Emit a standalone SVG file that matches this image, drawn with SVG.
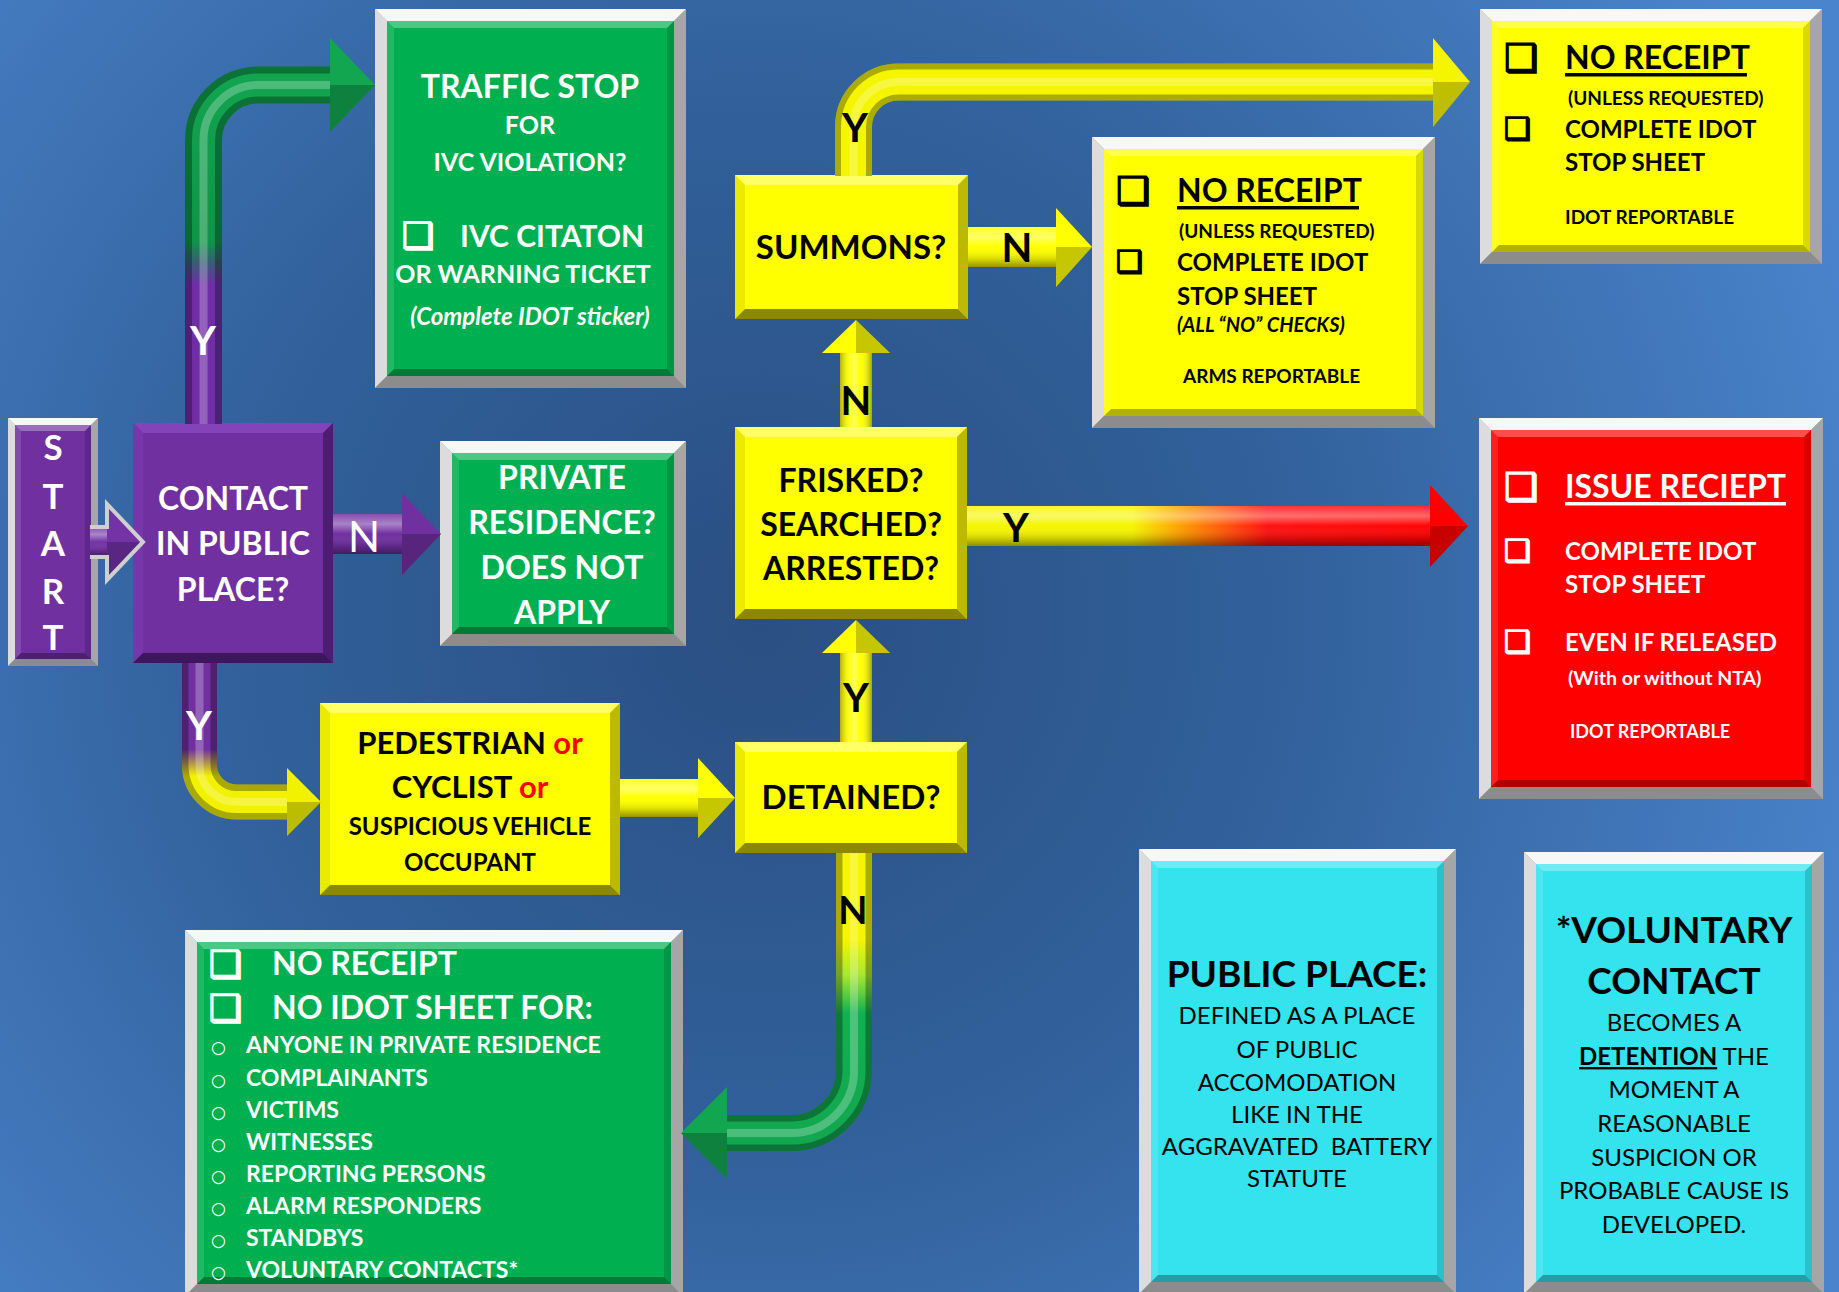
<svg xmlns="http://www.w3.org/2000/svg" width="1839" height="1292" viewBox="0 0 1839 1292">
<defs>
<radialGradient id="bg" gradientUnits="userSpaceOnUse" cx="760" cy="620" r="1150">
<stop offset="0" stop-color="#2a4f83"/>
<stop offset="0.45" stop-color="#31609a"/>
<stop offset="1" stop-color="#4a84cc"/>
</radialGradient>
<linearGradient id="shadeH" x1="0" y1="0" x2="0" y2="1">
<stop offset="0" stop-color="#fff" stop-opacity="0.15"/>
<stop offset="0.25" stop-color="#fff" stop-opacity="0.4"/>
<stop offset="0.5" stop-color="#fff" stop-opacity="0"/>
<stop offset="0.8" stop-color="#000" stop-opacity="0.15"/>
<stop offset="1" stop-color="#000" stop-opacity="0.42"/>
</linearGradient>
<linearGradient id="shadeV" x1="0" y1="0" x2="1" y2="0">
<stop offset="0" stop-color="#000" stop-opacity="0.3"/>
<stop offset="0.3" stop-color="#fff" stop-opacity="0.1"/>
<stop offset="0.45" stop-color="#fff" stop-opacity="0.35"/>
<stop offset="0.65" stop-color="#fff" stop-opacity="0"/>
<stop offset="1" stop-color="#000" stop-opacity="0.35"/>
</linearGradient>
<linearGradient id="gTraffic" gradientUnits="userSpaceOnUse" x1="0" y1="423" x2="0" y2="60">
<stop offset="0" stop-color="#6f2ea6"/>
<stop offset="0.38" stop-color="#6f2ea6"/>
<stop offset="0.44" stop-color="#3b5a78"/>
<stop offset="0.5" stop-color="#0f9448"/>
<stop offset="1" stop-color="#12a650"/>
</linearGradient>
<linearGradient id="gPed" gradientUnits="userSpaceOnUse" x1="0" y1="663" x2="0" y2="820">
<stop offset="0" stop-color="#7030a0"/>
<stop offset="0.55" stop-color="#7030a0"/>
<stop offset="0.72" stop-color="#f2f200"/>
<stop offset="1" stop-color="#f2f200"/>
</linearGradient>
<linearGradient id="gDet" gradientUnits="userSpaceOnUse" x1="0" y1="853" x2="0" y2="1150">
<stop offset="0" stop-color="#f5f500"/>
<stop offset="0.29" stop-color="#f5f500"/>
<stop offset="0.41" stop-color="#a8e830"/>
<stop offset="0.54" stop-color="#12b050"/>
<stop offset="1" stop-color="#12a650"/>
</linearGradient>
<linearGradient id="gRed" gradientUnits="userSpaceOnUse" x1="967" y1="0" x2="1468" y2="0">
<stop offset="0" stop-color="#f5f500"/>
<stop offset="0.33" stop-color="#f5f500"/>
<stop offset="0.43" stop-color="#ff9a00"/>
<stop offset="0.6" stop-color="#ff1010"/>
<stop offset="1" stop-color="#ff0000"/>
</linearGradient>
<style>
.f{font-family:Lato,'Open Sans','Liberation Sans',sans-serif}
.b{font-weight:700}
.r{font-weight:400}
.i{font-style:italic}
.w{fill:#fff}
.k{fill:#000}
.c{text-anchor:middle}
.ck{font-family:'DejaVu Sans',sans-serif;stroke-width:1.6}
.ck.k{stroke:#000}
.ck.w{stroke:#fff}
.ft{fill:#f7f7f7}.fl{fill:#dcdcdc}.fr{fill:#a6a6a6}.fb{fill:#8c8c8c}
.bt{fill:#fff;fill-opacity:.3}.bl{fill:#fff;fill-opacity:.12}.br{fill:#000;fill-opacity:.15}.bb{fill:#000;fill-opacity:.3}
.yt{fill:#ffff66}.yl{fill:#eaea00}.yr{fill:#bdb800}.yb{fill:#8c8800}
.pt{fill:#8443b8}.pl{fill:#7736aa}.pr{fill:#4c1d73}.pb{fill:#3d165e}
.green{fill:#00b050}.yellow{fill:#ffff00}.red{fill:#ff0000}.cyan{fill:#34e3ee}.purple{fill:#7030a0}
.sh{fill:url(#shadeH)}.sv{fill:url(#shadeV)}
.facet{fill:#000;fill-opacity:.22}
.tube{fill:none;stroke-linecap:butt;stroke-linejoin:round}
.tdark{fill:none;stroke:#000;stroke-opacity:.3;stroke-width:37}
.thi{fill:none;stroke:#fff;stroke-opacity:.25;stroke-width:8}
</style>
</defs>
<rect x="0" y="0" width="1839" height="1292" fill="url(#bg)"/>

<g id="start">
<rect x="8" y="418" width="90" height="248" class="fr"/>
<polygon class="ft" points="8,418 98,418 91,425 15,425"/>
<polygon class="fl" points="8,418 15,425 15,659 8,666"/>
<polygon class="fr" points="98,418 98,666 91,659 91,425"/>
<polygon class="fb" points="8,666 15,659 91,659 98,666"/>
<rect x="15" y="425" width="76" height="234" class="purple"/>
<polygon class="bt" points="15,425 91,425 85,431 21,431"/>
<polygon class="bl" points="15,425 21,431 21,653 15,659"/>
<polygon class="br" points="91,425 91,659 85,653 85,431"/>
<polygon class="bb" points="15,659 21,653 85,653 91,659"/>
<text class="f b w c" font-size="35" x="53" y="460">S</text>
<text class="f b w c" font-size="35" x="53" y="509">T</text>
<text class="f b w c" font-size="35" x="53" y="556">A</text>
<text class="f b w c" font-size="35" x="53" y="604">R</text>
<text class="f b w c" font-size="35" x="53" y="650">T</text>
</g>

<g id="contact">
<rect x="133" y="423" width="200" height="240" class="purple"/>
<polygon class="pt" points="133,423 333,423 323,433 143,433"/>
<polygon class="pl" points="133,423 143,433 143,653 133,663"/>
<polygon class="pr" points="333,423 333,663 323,653 323,433"/>
<polygon class="pb" points="133,663 143,653 323,653 333,663"/>
<text class="f b w c" font-size="32" x="233" y="510">CONTACT</text>
<text class="f b w c" font-size="32" x="233" y="555">IN PUBLIC</text>
<text class="f b w c" font-size="32" x="233" y="601">PLACE?</text>
</g>

<g id="traffic">
<rect x="375" y="9" width="311" height="379" class="fr"/>
<polygon class="ft" points="375,9 686,9 674,21 387,21"/>
<polygon class="fl" points="375,9 387,21 387,376 375,388"/>
<polygon class="fr" points="686,9 686,388 674,376 674,21"/>
<polygon class="fb" points="375,388 387,376 674,376 686,388"/>
<rect x="387" y="21" width="287" height="355" class="green"/>
<polygon class="bt" points="387,21 674,21 667,28 394,28"/>
<polygon class="bl" points="387,21 394,28 394,369 387,376"/>
<polygon class="br" points="674,21 674,376 667,369 667,28"/>
<polygon class="bb" points="387,376 394,369 667,369 674,376"/>
<text class="f b w c" x="530" y="98" font-size="32">TRAFFIC STOP</text>
<text class="f b w c" x="530" y="134" font-size="25">FOR</text>
<text class="f b w c" x="530" y="171" font-size="25">IVC VIOLATION?</text>
<text class="ck w" x="402" y="248" font-size="36">❑</text>
<text class="f b w" x="460" y="247" font-size="30">IVC CITATON</text>
<text class="f b w c" x="523" y="283" font-size="25">OR WARNING TICKET</text>
<text class="f b w c i" x="530" y="325" font-size="24">(Complete IDOT sticker)</text>
</g>

<g id="private">
<rect x="440" y="441" width="246" height="205" class="fr"/>
<polygon class="ft" points="440,441 686,441 674,453 452,453"/>
<polygon class="fl" points="440,441 452,453 452,634 440,646"/>
<polygon class="fr" points="686,441 686,646 674,634 674,453"/>
<polygon class="fb" points="440,646 452,634 674,634 686,646"/>
<rect x="452" y="453" width="222" height="181" class="green"/>
<polygon class="bt" points="452,453 674,453 667,460 459,460"/>
<polygon class="bl" points="452,453 459,460 459,627 452,634"/>
<polygon class="br" points="674,453 674,634 667,627 667,460"/>
<polygon class="bb" points="452,634 459,627 667,627 674,634"/>
<text class="f b w c" x="562" y="489" font-size="32">PRIVATE</text>
<text class="f b w c" x="562" y="534" font-size="32">RESIDENCE?</text>
<text class="f b w c" x="562" y="579" font-size="32">DOES NOT</text>
<text class="f b w c" x="562" y="624" font-size="32">APPLY</text>
</g>

<g id="pedestrian">
<rect x="320" y="703" width="300" height="192" class="yellow"/>
<polygon class="yt" points="320,703 620,703 610,713 330,713"/>
<polygon class="yl" points="320,703 330,713 330,885 320,895"/>
<polygon class="yr" points="620,703 620,895 610,885 610,713"/>
<polygon class="yb" points="320,895 330,885 610,885 620,895"/>
<text class="f b k c" x="470" y="754" font-size="31">PEDESTRIAN <tspan fill="#ff0000">or</tspan></text>
<text class="f b k c" x="470" y="798" font-size="31">CYCLIST <tspan fill="#ff0000">or</tspan></text>
<text class="f b k c" x="470" y="835" font-size="24">SUSPICIOUS VEHICLE</text>
<text class="f b k c" x="470" y="871" font-size="24">OCCUPANT</text>
</g>

<g id="summons">
<rect x="735" y="175" width="233" height="144" class="yellow"/>
<polygon class="yt" points="735,175 968,175 958,185 745,185"/>
<polygon class="yl" points="735,175 745,185 745,309 735,319"/>
<polygon class="yr" points="968,175 968,319 958,309 958,185"/>
<polygon class="yb" points="735,319 745,309 958,309 968,319"/>
<text class="f b k c" x="851" y="259" font-size="33">SUMMONS?</text>
</g>

<g id="frisked">
<rect x="735" y="427" width="232" height="192" class="yellow"/>
<polygon class="yt" points="735,427 967,427 957,437 745,437"/>
<polygon class="yl" points="735,427 745,437 745,609 735,619"/>
<polygon class="yr" points="967,427 967,619 957,609 957,437"/>
<polygon class="yb" points="735,619 745,609 957,609 967,619"/>
<text class="f b k c" x="851" y="492" font-size="32">FRISKED?</text>
<text class="f b k c" x="851" y="536" font-size="32">SEARCHED?</text>
<text class="f b k c" x="851" y="580" font-size="32">ARRESTED?</text>
</g>

<g id="detained">
<rect x="735" y="742" width="232" height="111" class="yellow"/>
<polygon class="yt" points="735,742 967,742 957,752 745,752"/>
<polygon class="yl" points="735,742 745,752 745,843 735,853"/>
<polygon class="yr" points="967,742 967,853 957,843 957,752"/>
<polygon class="yb" points="735,853 745,843 957,843 967,853"/>
<text class="f b k c" x="851" y="809" font-size="33">DETAINED?</text>
</g>

<g id="no-receipt-arms">
<rect x="1092" y="137" width="343" height="291" class="fr"/>
<polygon class="ft" points="1092,137 1435,137 1423,149 1104,149"/>
<polygon class="fl" points="1092,137 1104,149 1104,416 1092,428"/>
<polygon class="fr" points="1435,137 1435,428 1423,416 1423,149"/>
<polygon class="fb" points="1092,428 1104,416 1423,416 1435,428"/>
<rect x="1104" y="149" width="319" height="267" class="yellow"/>
<polygon class="bt" points="1104,149 1423,149 1416,156 1111,156"/>
<polygon class="bl" points="1104,149 1111,156 1111,409 1104,416"/>
<polygon class="br" points="1423,149 1423,416 1416,409 1416,156"/>
<polygon class="bb" points="1104,416 1111,409 1416,409 1423,416"/>
<text class="ck k" x="1116" y="204" font-size="38">❑</text>
<text class="f b k" x="1177" y="202" font-size="32">NO RECEIPT</text>
<rect x="1177" y="206" width="182" height="3.5" fill="#000"/>
<text class="f b k" x="1179" y="238" font-size="19">(UNLESS REQUESTED)</text>
<text class="ck k" x="1116" y="272" font-size="30">❑</text>
<text class="f b k" x="1177" y="271" font-size="24">COMPLETE IDOT</text>
<text class="f b k" x="1177" y="305" font-size="24">STOP SHEET</text>
<text class="f b k i" x="1177" y="332" font-size="20">(ALL “NO” CHECKS)</text>
<text class="f b k" x="1183" y="383" font-size="19">ARMS REPORTABLE</text>
</g>

<g id="no-receipt-idot">
<rect x="1480" y="9" width="342" height="255" class="fr"/>
<polygon class="ft" points="1480,9 1822,9 1810,21 1492,21"/>
<polygon class="fl" points="1480,9 1492,21 1492,252 1480,264"/>
<polygon class="fr" points="1822,9 1822,264 1810,252 1810,21"/>
<polygon class="fb" points="1480,264 1492,252 1810,252 1822,264"/>
<rect x="1492" y="21" width="318" height="231" class="yellow"/>
<polygon class="bt" points="1492,21 1810,21 1803,28 1499,28"/>
<polygon class="bl" points="1492,21 1499,28 1499,245 1492,252"/>
<polygon class="br" points="1810,21 1810,252 1803,245 1803,28"/>
<polygon class="bb" points="1492,252 1499,245 1803,245 1810,252"/>
<text class="ck k" x="1504" y="71" font-size="38">❑</text>
<text class="f b k" x="1565" y="69" font-size="32">NO RECEIPT</text>
<rect x="1565" y="73" width="182" height="3.5" fill="#000"/>
<text class="f b k" x="1568" y="105" font-size="19">(UNLESS REQUESTED)</text>
<text class="ck k" x="1504" y="139" font-size="30">❑</text>
<text class="f b k" x="1565" y="138" font-size="24">COMPLETE IDOT</text>
<text class="f b k" x="1565" y="171" font-size="24">STOP SHEET</text>
<text class="f b k" x="1565" y="224" font-size="19">IDOT REPORTABLE</text>
</g>

<g id="issue-receipt">
<rect x="1479" y="418" width="344" height="381" class="fr"/>
<polygon class="ft" points="1479,418 1823,418 1811,430 1491,430"/>
<polygon class="fl" points="1479,418 1491,430 1491,787 1479,799"/>
<polygon class="fr" points="1823,418 1823,799 1811,787 1811,430"/>
<polygon class="fb" points="1479,799 1491,787 1811,787 1823,799"/>
<rect x="1491" y="430" width="320" height="357" class="red"/>
<polygon class="bt" points="1491,430 1811,430 1804,437 1498,437"/>
<polygon class="bl" points="1491,430 1498,437 1498,780 1491,787"/>
<polygon class="br" points="1811,430 1811,787 1804,780 1804,437"/>
<polygon class="bb" points="1491,787 1498,780 1804,780 1811,787"/>
<text class="ck w" x="1504" y="500" font-size="38">❑</text>
<text class="f b w" x="1565" y="498" font-size="32">ISSUE RECIEPT</text>
<rect x="1565" y="502" width="221" height="3.5" fill="#fff"/>
<text class="ck w" x="1504" y="561" font-size="30">❑</text>
<text class="f b w" x="1565" y="560" font-size="24">COMPLETE IDOT</text>
<text class="f b w" x="1565" y="593" font-size="24">STOP SHEET</text>
<text class="ck w" x="1504" y="652" font-size="30">❑</text>
<text class="f b w" x="1565" y="651" font-size="24">EVEN IF RELEASED</text>
<text class="f b w" x="1568" y="685" font-size="19.5">(With or without NTA)</text>
<text class="f b w" x="1570" y="738" font-size="18">IDOT REPORTABLE</text>
</g>

<g id="no-idot-sheet">
<rect x="185" y="930" width="498" height="366" class="fr"/>
<polygon class="ft" points="185,930 683,930 671,942 197,942"/>
<polygon class="fl" points="185,930 197,942 197,1284 185,1296"/>
<polygon class="fr" points="683,930 683,1296 671,1284 671,942"/>
<polygon class="fb" points="185,1296 197,1284 671,1284 683,1296"/>
<rect x="197" y="942" width="474" height="342" class="green"/>
<polygon class="bt" points="197,942 671,942 664,949 204,949"/>
<polygon class="bl" points="197,942 204,949 204,1277 197,1284"/>
<polygon class="br" points="671,942 671,1284 664,1277 664,949"/>
<polygon class="bb" points="197,1284 204,1277 664,1277 671,1284"/>
<text class="ck w" x="209" y="977" font-size="37">❑</text>
<text class="f b w" x="272" y="975" font-size="32">NO RECEIPT</text>
<text class="ck w" x="209" y="1021" font-size="37">❑</text>
<text class="f b w" x="272" y="1019" font-size="32">NO IDOT SHEET FOR:</text>
<g class="w" font-family="DejaVu Sans, sans-serif" font-size="17">
<text x="211" y="1053">○</text>
<text x="211" y="1086">○</text>
<text x="211" y="1118">○</text>
<text x="211" y="1150">○</text>
<text x="211" y="1182">○</text>
<text x="211" y="1214">○</text>
<text x="211" y="1246">○</text>
<text x="211" y="1278">○</text>
</g>
<g class="f b w" font-size="23">
<text x="246" y="1053">ANYONE IN PRIVATE RESIDENCE</text>
<text x="246" y="1086">COMPLAINANTS</text>
<text x="246" y="1118">VICTIMS</text>
<text x="246" y="1150">WITNESSES</text>
<text x="246" y="1182">REPORTING PERSONS</text>
<text x="246" y="1214">ALARM RESPONDERS</text>
<text x="246" y="1246">STANDBYS</text>
<text x="246" y="1278">VOLUNTARY CONTACTS*</text>
</g>
</g>

<g id="public-place">
<rect x="1139" y="849" width="317" height="445" class="fr"/>
<polygon class="ft" points="1139,849 1456,849 1444,861 1151,861"/>
<polygon class="fl" points="1139,849 1151,861 1151,1282 1139,1294"/>
<polygon class="fr" points="1456,849 1456,1294 1444,1282 1444,861"/>
<polygon class="fb" points="1139,1294 1151,1282 1444,1282 1456,1294"/>
<rect x="1151" y="861" width="293" height="421" class="cyan"/>
<polygon class="bt" points="1151,861 1444,861 1437,868 1158,868"/>
<polygon class="bl" points="1151,861 1158,868 1158,1275 1151,1282"/>
<polygon class="br" points="1444,861 1444,1282 1437,1275 1437,868"/>
<polygon class="bb" points="1151,1282 1158,1275 1437,1275 1444,1282"/>
<text class="f b k c" x="1297" y="987" font-size="37">PUBLIC PLACE:</text>
<g class="f r k c" font-size="24">
<text x="1297" y="1024">DEFINED AS A PLACE</text>
<text x="1297" y="1058">OF PUBLIC</text>
<text x="1297" y="1091">ACCOMODATION</text>
<text x="1297" y="1123">LIKE IN THE</text>
<text x="1297" y="1155" style="white-space:pre">AGGRAVATED  BATTERY</text>
<text x="1297" y="1187">STATUTE</text>
</g>
</g>

<g id="voluntary-contact">
<rect x="1524" y="852" width="300" height="442" class="fr"/>
<polygon class="ft" points="1524,852 1824,852 1812,864 1536,864"/>
<polygon class="fl" points="1524,852 1536,864 1536,1282 1524,1294"/>
<polygon class="fr" points="1824,852 1824,1294 1812,1282 1812,864"/>
<polygon class="fb" points="1524,1294 1536,1282 1812,1282 1824,1294"/>
<rect x="1536" y="864" width="276" height="418" class="cyan"/>
<polygon class="bt" points="1536,864 1812,864 1805,871 1543,871"/>
<polygon class="bl" points="1536,864 1543,871 1543,1275 1536,1282"/>
<polygon class="br" points="1812,864 1812,1282 1805,1275 1805,871"/>
<polygon class="bb" points="1536,1282 1543,1275 1805,1275 1812,1282"/>
<text class="f b k c" x="1674" y="943" font-size="37">*VOLUNTARY</text>
<text class="f b k c" x="1674" y="994" font-size="37">CONTACT</text>
<g class="f r k c" font-size="24">
<text x="1674" y="1031">BECOMES A</text>
<text x="1674" y="1065"><tspan font-weight="700" text-decoration="underline">DETENTION</tspan> THE</text>
<text x="1674" y="1098">MOMENT A</text>
<text x="1674" y="1132">REASONABLE</text>
<text x="1674" y="1166">SUSPICION OR</text>
<text x="1674" y="1199">PROBABLE CAUSE IS</text>
<text x="1674" y="1233">DEVELOPED.</text>
</g>
</g>

<g id="connectors">
<!-- START -> CONTACT -->
<path d="M90,527 H107 V504 L143,542 L107,580 V557 H90 Z" fill="#7332a6"/>
<polygon class="facet" points="107,542 143,542 107,580"/>
<rect x="90" y="527" width="17" height="30" class="sh"/>
<path d="M90,527 H107 V504 L143,542 L107,580 V557 H90" fill="none" stroke="#cfcfcf" stroke-width="4"/>

<!-- CONTACT -> PRIVATE (N) -->
<rect x="333" y="514" width="70" height="40" class="purple"/>
<rect x="333" y="514" width="70" height="40" class="sh"/>
<polygon points="402,493 441,534 402,575" class="purple"/>
<polygon class="facet" points="402,534 441,534 402,575"/>
<text class="f r w c" x="364" y="552" font-size="42">N</text>

<!-- CONTACT -> TRAFFIC (Y) -->
<path class="tube" d="M203.5,424 V140 A55,55 0 0 1 258.5,85 H333" stroke="url(#gTraffic)" stroke-width="37"/>
<path class="tdark" d="M203.5,424 V140 A55,55 0 0 1 258.5,85 H333"/>
<path class="tube" d="M203.5,424 V140 A55,55 0 0 1 258.5,85 H333" stroke="url(#gTraffic)" stroke-width="23"/>
<path class="thi" d="M203.5,424 V140 A55,55 0 0 1 258.5,85 H333"/>
<polygon points="330,38 375,85 330,132" fill="#12a650"/>
<polygon class="facet" points="330,85 375,85 330,132"/>
<text class="f b w c" x="203" y="355" font-size="40">Y</text>

<!-- CONTACT -> PEDESTRIAN (Y) -->
<path class="tube" d="M199.5,663 V765 A37,37 0 0 0 236.5,802 H289" stroke="url(#gPed)" stroke-width="35"/>
<path class="tdark" d="M199.5,663 V765 A37,37 0 0 0 236.5,802 H289" style="stroke-width:35"/>
<path class="tube" d="M199.5,663 V765 A37,37 0 0 0 236.5,802 H289" stroke="url(#gPed)" stroke-width="22"/>
<path class="thi" d="M199.5,663 V765 A37,37 0 0 0 236.5,802 H289"/>
<polygon points="287,768 321,802 287,836" fill="#f2f200"/>
<polygon class="facet" points="287,802 321,802 287,836"/>
<text class="f b w c" x="199" y="740" font-size="40">Y</text>

<!-- PEDESTRIAN -> DETAINED -->
<rect x="620" y="779" width="79" height="38" class="yellow"/>
<rect x="620" y="779" width="79" height="38" class="sh"/>
<polygon points="698,758 735,798 698,838" class="yellow"/>
<polygon class="facet" points="698,798 735,798 698,838"/>

<!-- DETAINED -> FRISKED (Y) -->
<rect x="840" y="652" width="32" height="90" class="yellow"/>
<rect x="840" y="652" width="32" height="90" class="sv"/>
<polygon points="822,653 856,620 890,653" class="yellow"/>
<polygon class="facet" points="856,620 890,653 856,653"/>
<text class="f b k c" x="856" y="712" font-size="40">Y</text>

<!-- FRISKED -> SUMMONS (N) -->
<rect x="840" y="352" width="32" height="75" class="yellow"/>
<rect x="840" y="352" width="32" height="75" class="sv"/>
<polygon points="822,353 856,320 890,353" class="yellow"/>
<polygon class="facet" points="856,320 890,353 856,353"/>
<text class="f b k c" x="856" y="415" font-size="40">N</text>

<!-- SUMMONS -> NO RECEIPT (N) -->
<rect x="968" y="227" width="89" height="40" class="yellow"/>
<rect x="968" y="227" width="89" height="40" class="sh"/>
<polygon points="1056,208 1092,247 1056,287" class="yellow"/>
<polygon class="facet" points="1056,247 1092,247 1056,287"/>
<text class="f b k c" x="1017" y="262" font-size="40">N</text>

<!-- SUMMONS -> NO RECEIPT IDOT (Y) -->
<path class="tube" d="M853.5,176 V127 A45,45 0 0 1 898.5,82 H1435" stroke="#f5f500" stroke-width="37"/>
<path class="tdark" d="M853.5,176 V127 A45,45 0 0 1 898.5,82 H1435"/>
<path class="tube" d="M853.5,176 V127 A45,45 0 0 1 898.5,82 H1435" stroke="#f5f500" stroke-width="25"/>
<path class="thi" d="M853.5,176 V127 A45,45 0 0 1 898.5,82 H1435"/>
<polygon points="1433,38 1470,82 1433,127" fill="#f5f500"/>
<polygon class="facet" points="1433,82 1470,82 1433,127"/>
<text class="f b k c" x="855" y="142" font-size="40">Y</text>

<!-- FRISKED -> ISSUE RECEIPT (Y) -->
<rect x="967" y="506" width="464" height="40" fill="url(#gRed)"/>
<rect x="967" y="506" width="464" height="40" class="sh"/>
<polygon points="1430,485 1468,526 1430,567" class="red"/>
<polygon class="facet" points="1430,526 1468,526 1430,567"/>
<text class="f b k c" x="1016" y="542" font-size="40">Y</text>

<!-- DETAINED -> NO IDOT SHEET (N) -->
<path class="tube" d="M854,853 V1071 A62,62 0 0 1 792,1133 H726" stroke="url(#gDet)" stroke-width="36"/>
<path class="tdark" d="M854,853 V1071 A62,62 0 0 1 792,1133 H726" style="stroke-width:36"/>
<path class="tube" d="M854,853 V1071 A62,62 0 0 1 792,1133 H726" stroke="url(#gDet)" stroke-width="23"/>
<path class="thi" d="M854,853 V1071 A62,62 0 0 1 792,1133 H726"/>
<polygon points="727,1087 681,1133 727,1179" fill="#12a650"/>
<polygon class="facet" points="727,1133 681,1133 727,1179"/>
<text class="f b k c" x="853" y="924" font-size="38">N</text>
</g>
</svg>
